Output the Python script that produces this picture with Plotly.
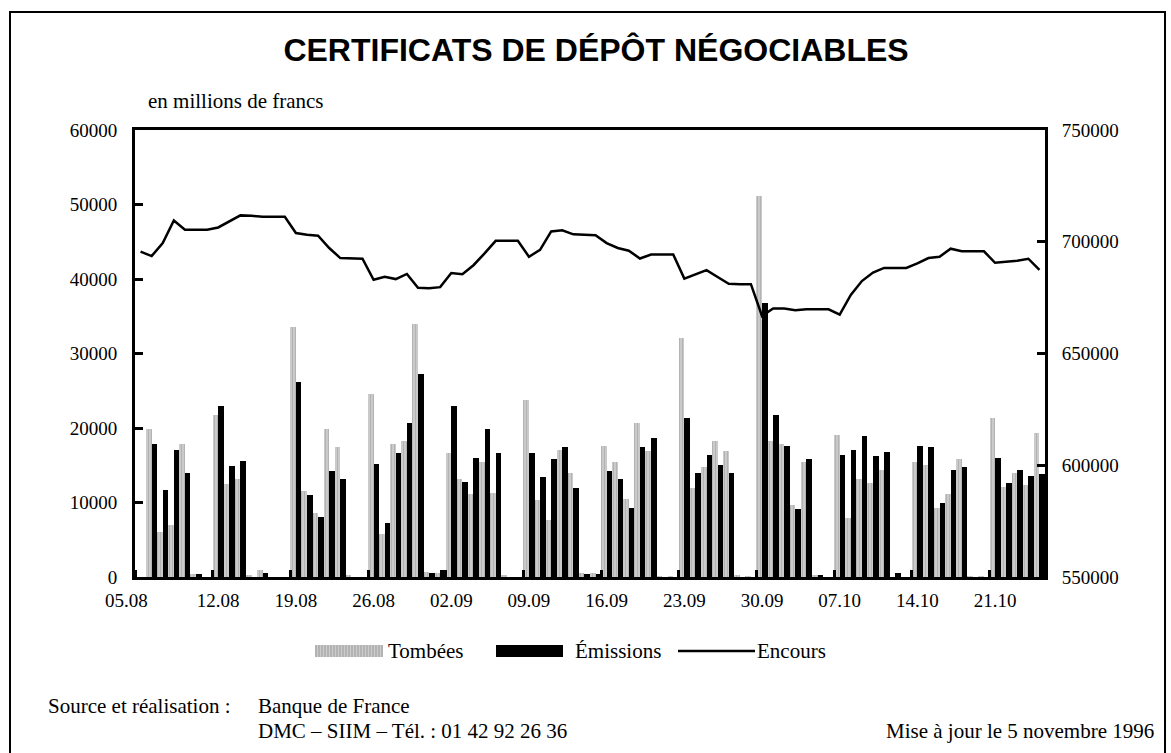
import plotly.graph_objects as go

# ---------------- data ----------------
dates = ["05.08", "06.08", "07.08", "08.08", "09.08", "10.08", "11.08",
         "12.08", "13.08", "14.08", "15.08", "16.08", "17.08", "18.08",
         "19.08", "20.08", "21.08", "22.08", "23.08", "24.08", "25.08",
         "26.08", "27.08", "28.08", "29.08", "30.08", "31.08", "01.09",
         "02.09", "03.09", "04.09", "05.09", "06.09", "07.09", "08.09",
         "09.09", "10.09", "11.09", "12.09", "13.09", "14.09", "15.09",
         "16.09", "17.09", "18.09", "19.09", "20.09", "21.09", "22.09",
         "23.09", "24.09", "25.09", "26.09", "27.09", "28.09", "29.09",
         "30.09", "01.10", "02.10", "03.10", "04.10", "05.10", "06.10",
         "07.10", "08.10", "09.10", "10.10", "11.10", "12.10", "13.10",
         "14.10", "15.10", "16.10", "17.10", "18.10", "19.10", "20.10",
         "21.10", "22.10", "23.10", "24.10", "25.10"]

tombees = [0, 19800, 6100, 7000, 17900, 400, 0,
           21800, 12500, 13100, 200, 1000, 0, 0,
           33500, 11600, 8600, 19800, 17500, 200, 0,
           24600, 5800, 17800, 18200, 33900, 700, 500,
           16600, 13200, 11100, 15400, 11300, 300, 0,
           23800, 10300, 7600, 17100, 13900, 500, 600,
           17600, 15400, 10500, 20700, 16900, 100, 100,
           32100, 11900, 14800, 18200, 16900, 300, 100,
           51200, 18200, 17800, 9700, 15500, 200, 0,
           19100, 7900, 13100, 12600, 14400, 0, 0,
           15500, 15000, 9300, 11100, 15800, 100, 100,
           21300, 12100, 14000, 12300, 19300]

emissions = [0, 17900, 11700, 17100, 13900, 400, 0,
             23000, 14900, 15600, 0, 600, 0, 0,
             26200, 11000, 8100, 14200, 13100, 0, 0,
             15200, 7200, 16700, 20700, 27300, 500, 900,
             22900, 12800, 16000, 19900, 16600, 0, 0,
             16600, 13400, 15800, 17500, 12000, 400, 400,
             14200, 13100, 9300, 17400, 18700, 0, 0,
             21400, 14000, 16400, 15100, 13900, 0, 0,
             36800, 21700, 17600, 9100, 15900, 300, 0,
             16400, 17000, 18900, 16200, 16800, 500, 0,
             17600, 17400, 9900, 14400, 14700, 0, 0,
             16000, 12600, 14400, 13500, 13800]

encours = [695600, 693600, 699400, 709500, 705400, 705400, 705400,
           706400, 709100, 711800, 711600, 711200, 711200, 711200,
           703900, 703100, 702700, 697200, 692700, 692500, 692400,
           683000, 684300, 683300, 685600, 679400, 679200, 679700,
           686000, 685500, 689500, 694800, 700400, 700400, 700400,
           693300, 696400, 704600, 705100, 703300, 703000, 702900,
           699400, 697200, 696000, 692500, 694300, 694300, 694300,
           683500, 685500, 687300, 684200, 681200, 681000, 681000,
           666800, 670100, 670100, 669400, 669800, 669800, 669800,
           667400, 676200, 682400, 686200, 688300, 688300, 688300,
           690300, 692700, 693300, 696900, 695800, 695700, 695700,
           690600, 691000, 691500, 692400, 687400]

week_labels = ["05.08", "12.08", "19.08", "26.08", "02.09", "09.09",
               "16.09", "23.09", "30.09", "07.10", "14.10", "21.10"]

left_ticks = [0, 10000, 20000, 30000, 40000, 50000, 60000]
right_ticks = [550000, 600000, 650000, 700000, 750000]

# ---------------- figure ----------------
W, H = 1171, 753
PL, PR, PT, PB = 135, 1045, 130, 577
SERIF = "Liberation Serif, Times New Roman, serif"
SANS = "Liberation Sans, Arial, sans-serif"


def px_x(px):
    return (px - PL) / (PR - PL)


def px_y(py):
    return (PB - py) / (PB - PT)


pos = list(range(len(dates)))
label_pos = [dates.index(d) for d in week_labels]
label_text = ["05.08" + "\u00a0" * 6] + week_labels[1:]
boundaries = [p - 0.5 for p in label_pos]

fig = go.Figure()
fig.add_trace(go.Bar(
    x=pos, y=tombees, name="Tombées", showlegend=False,
    marker=dict(color="#c0c0c0", line=dict(width=0),
                pattern=dict(shape="|", fgcolor="#9a9a9a", bgcolor="#cccccc",
                             size=3, solidity=0.4)),
    hovertext=dates))
fig.add_trace(go.Bar(
    x=pos, y=emissions, name="Émissions", showlegend=False,
    marker=dict(color="black", line=dict(width=0)), hovertext=dates))
fig.add_trace(go.Scatter(
    x=pos, y=encours, name="Encours", yaxis="y2", mode="lines",
    showlegend=False, line=dict(color="black", width=2.5), hovertext=dates))

axis_font = dict(family=SERIF, size=19, color="black")

fig.update_layout(
    width=W, height=H,
    margin=dict(l=PL, r=W - PR, t=PT, b=H - PB, pad=0),
    paper_bgcolor="white", plot_bgcolor="white",
    barmode="group", bargap=0, bargroupgap=0,
    title=dict(text="CERTIFICATS DE DÉPÔT NÉGOCIABLES",
               font=dict(family=SANS, size=32, color="black", weight="bold"),
               x=596 / W, xanchor="center", y=1 - 50 / H, yanchor="middle"),
    xaxis=dict(range=[-0.5, len(dates) - 0.5], tickmode="array",
               tickvals=label_pos, ticktext=label_text, ticks="",
               tickfont=axis_font, showgrid=False, zeroline=False,
               showline=True, linecolor="black", linewidth=3, mirror=True,
               ticklabelstandoff=4,
               minor=dict(tickmode="array", tickvals=boundaries,
                          ticks="inside", ticklen=7, tickwidth=2.5,
                          tickcolor="black", showgrid=False)),
    yaxis=dict(range=[0, 60000], tickmode="array", tickvals=left_ticks,
               tickformat="d",
               ticks="inside", ticklen=8, tickwidth=2.5, tickcolor="black",
               tickfont=axis_font, showgrid=False, zeroline=False,
               showline=True, linecolor="black", linewidth=3,
               ticklabelstandoff=11),
    yaxis2=dict(range=[550000, 750000], tickmode="array",
                tickvals=right_ticks, tickformat="d", overlaying="y",
                side="right",
                ticks="inside", ticklen=8, tickwidth=2.5, tickcolor="black",
                tickfont=axis_font, showgrid=False, zeroline=False,
                showline=True, linecolor="black", linewidth=3,
                ticklabelstandoff=10),
    showlegend=False,
)

shapes = []
# outer frame
shapes.append(dict(type="rect", xref="paper", yref="paper",
                   x0=px_x(10), x1=px_x(1165), y0=px_y(800), y1=px_y(12),
                   line=dict(color="black", width=2), fillcolor="rgba(0,0,0,0)",
                   layer="below"))
# legend swatches
LY0, LY1, LYC = 645, 657, 651
shapes.append(dict(type="rect", xref="paper", yref="paper",
                   x0=px_x(315), x1=px_x(383), y0=px_y(LY1), y1=px_y(LY0),
                   line=dict(width=0), fillcolor="#cccccc"))
stripes = " ".join(f"M{px_x(x)},{px_y(LY1)} L{px_x(x)},{px_y(LY0)}"
                   for x in range(316, 383, 3))
shapes.append(dict(type="path", xref="paper", yref="paper", path=stripes,
                   line=dict(color="#9a9a9a", width=1)))
shapes.append(dict(type="rect", xref="paper", yref="paper",
                   x0=px_x(496), x1=px_x(563), y0=px_y(LY1), y1=px_y(LY0),
                   line=dict(width=0), fillcolor="black"))
shapes.append(dict(type="line", xref="paper", yref="paper",
                   x0=px_x(678), x1=px_x(755), y0=px_y(LYC), y1=px_y(LYC),
                   line=dict(color="black", width=2.5)))
fig.update_layout(shapes=shapes)

txt_font = dict(family=SERIF, size=21, color="black")


def note(text, px, py, anchor="left"):
    fig.add_annotation(text=text, xref="paper", yref="paper",
                       x=px_x(px), y=px_y(py), xanchor=anchor,
                       yanchor="middle", showarrow=False, font=txt_font)


note("en millions de francs", 146, 101)
note("Tombées", 386, LYC)
note("Émissions", 573, LYC)
note("Encours", 755, LYC)
note("Source et réalisation :", 46, 706)
note("Banque de France", 256, 706)
note("DMC – SIIM – Tél. : 01 42 92 26 36", 256, 731)
note("Mise à jour le 5 novembre 1996", 1156, 731, anchor="right")

fig.write_html(
    "out.html",
    config={"displayModeBar": False},
    post_script="document.body.style.margin='0';"
                "document.body.style.padding='0';"
                "document.body.style.overflow='hidden';")
